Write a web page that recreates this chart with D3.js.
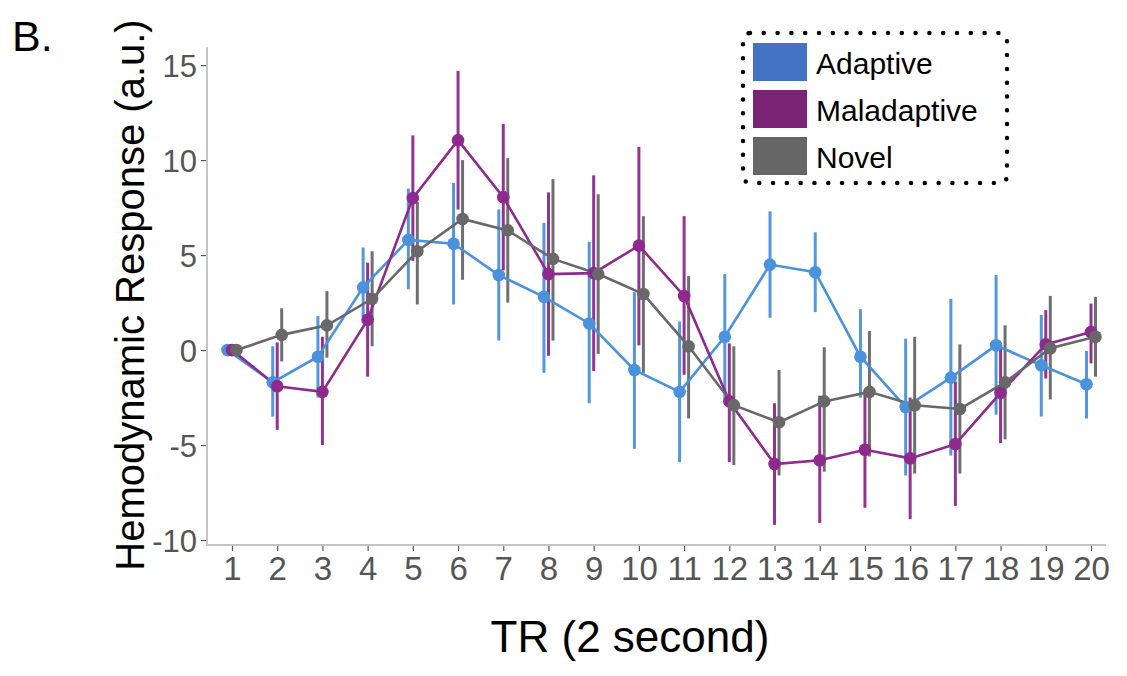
<!DOCTYPE html>
<html>
<head>
<meta charset="utf-8">
<script src="https://cdn.jsdelivr.net/npm/d3@7"></script>
<style>
  body { margin: 0; background: #fff; }
  text { font-family: "Liberation Sans", Arial, Helvetica, sans-serif; }
</style>
</head>
<body>
<svg id="chart"></svg>
<script>
// TR 1..20
var trLabels = ["1","2","3","4","5","6","7","8","9","10","11","12","13","14","15","16","17","18","19","20"];
var yTicks = [-10, -5, 0, 5, 10, 15];
var seriesNames = ["Adaptive", "Maladaptive", "Novel"];

var adaptiveMean  = [0, -1.7, -0.35, 3.3, 5.8, 5.6, 3.95, 2.8, 1.4, -1.05, -2.2, 0.7, 4.5, 4.1, -0.35, -3.0, -1.45, 0.25, -0.8, -1.8];
var adaptiveUpper = [0, 0.2, 1.8, 5.4, 8.5, 8.8, 7.4, 6.7, 5.7, 3.05, 1.5, 4.0, 7.3, 6.2, 2.15, 0.6, 2.7, 3.95, 1.85, -0.05];
var adaptiveLower = [0, -3.5, -2.5, 1.7, 3.2, 2.4, 0.5, -1.2, -2.8, -5.2, -5.9, -2.6, 1.7, 2.0, -2.5, -6.6, -5.55, -3.4, -3.5, -3.6];

var maladaptiveMean  = [0, -1.9, -2.2, 1.6, 8.0, 11.05, 8.05, 4.0, 4.05, 5.5, 2.85, -2.7, -6.0, -5.8, -5.25, -5.7, -4.95, -2.25, 0.3, 0.95];
var maladaptiveUpper = [0, 0.4, 0.7, 4.6, 11.3, 14.7, 11.9, 8.3, 9.2, 10.7, 7.05, 0.35, -2.8, -2.4, -2.3, -2.5, -1.65, 0.15, 2.1, 2.45];
var maladaptiveLower = [0, -4.2, -5.0, -1.4, 4.7, 7.4, 4.2, -0.3, -1.1, 0.25, -1.3, -5.9, -9.2, -9.1, -8.3, -8.9, -8.2, -4.9, -1.5, -0.7];

var novelMean  = [0, 0.8, 1.3, 2.7, 5.2, 6.9, 6.3, 4.8, 4.0, 2.95, 0.2, -2.9, -3.8, -2.7, -2.2, -2.9, -3.1, -1.7, 0.1, 0.7];
var novelUpper = [0, 2.2, 3.1, 5.2, 7.8, 10.0, 10.1, 9.0, 8.2, 7.05, 3.9, 0.2, -1.05, 0.15, 1.0, 0.7, 0.3, 1.3, 2.85, 2.8];
var novelLower = [0, -0.6, -0.4, 0.2, 2.4, 3.7, 2.5, 0.5, -0.2, -1.2, -3.6, -6.05, -6.6, -6.4, -5.6, -6.5, -6.5, -4.7, -2.6, -1.4];

var lineColors = ["#4a92dc", "#8e2a8e", "#686868"];
var keyColors = ["#4472c4", "#7b2477", "#666666"];
var dodge = [-4.5, 0, 4.5];

var svgWidth = 1127;
var svgHeight = 676;

var svg = d3.select("#chart")
    .attr("width", svgWidth)
    .attr("height", svgHeight);

var xAxisY = 545;
var yAxisX = 207;

var xScale = d3.scalePoint()
    .domain(trLabels)
    .range([232, 1091]);

var yScale = d3.scaleLinear()
    .domain([-10.26, 15.9])
    .range([545, 48]);

var means = [adaptiveMean, maladaptiveMean, novelMean];
var uppers = [adaptiveUpper, maladaptiveUpper, novelUpper];
var lowers = [adaptiveLower, maladaptiveLower, novelLower];

var series = seriesNames.map(function(name, s){
    return trLabels.map(function(tr, i){
        return { tr: tr, mean: means[s][i], hi: uppers[s][i], lo: lowers[s][i], s: s };
    });
});

// axes
var yAxis = svg.append("g")
    .attr("class", "yAxis")
    .attr("transform", "translate(" + yAxisX + ",0)")
    .call(d3.axisLeft(yScale).tickValues(yTicks).tickSize(6).tickPadding(4)
        .tickFormat(function(d){ return String(d); }));

var xAxis = svg.append("g")
    .attr("class", "xAxis")
    .attr("transform", "translate(0," + xAxisY + ")")
    .call(d3.axisBottom(xScale).tickSize(6).tickPadding(5));

yAxis.select(".domain").remove();
xAxis.select(".domain").remove();

svg.append("line")
    .attr("x1", yAxisX).attr("x2", yAxisX)
    .attr("y1", 47).attr("y2", xAxisY)
    .attr("stroke", "#c4c4c4").attr("stroke-width", 2);
svg.append("line")
    .attr("x1", yAxisX - 1).attr("x2", 1106)
    .attr("y1", xAxisY).attr("y2", xAxisY)
    .attr("stroke", "#c4c4c4").attr("stroke-width", 2);

svg.selectAll(".tick line").attr("stroke", "#555").attr("stroke-width", 1.2);

yAxis.selectAll(".tick text")
    .attr("font-size", "31px")
    .attr("fill", "#555")
    .attr("dy", "0.36em");

xAxis.selectAll(".tick text")
    .attr("font-size", "33px")
    .attr("fill", "#555")
    .attr("dy", "0.72em");

// error bars
var plot = svg.append("g");
series.forEach(function(d, s){
    plot.append("g")
        .selectAll("line")
        .data(d.filter(function(p){ return p.hi !== p.lo; }))
        .enter()
        .append("line")
        .attr("x1", function(p){ return xScale(p.tr) + dodge[s]; })
        .attr("x2", function(p){ return xScale(p.tr) + dodge[s]; })
        .attr("y1", function(p){ return yScale(p.hi); })
        .attr("y2", function(p){ return yScale(p.lo); })
        .attr("stroke", lineColors[s])
        .attr("stroke-width", 3)
        .attr("opacity", 0.95);
});

// lines
series.forEach(function(d, s){
    plot.append("path")
        .datum(d)
        .attr("fill", "none")
        .attr("stroke", lineColors[s])
        .attr("stroke-width", 2.6)
        .attr("d", d3.line()
            .x(function(p){ return xScale(p.tr) + dodge[s]; })
            .y(function(p){ return yScale(p.mean); }));
});

// points
series.forEach(function(d, s){
    plot.append("g")
        .selectAll("circle")
        .data(d)
        .enter()
        .append("circle")
        .attr("cx", function(p){ return xScale(p.tr) + dodge[s]; })
        .attr("cy", function(p){ return yScale(p.mean); })
        .attr("r", 6.3)
        .attr("fill", lineColors[s]);
});

// titles
svg.append("text")
    .attr("x", 12)
    .attr("y", 51)
    .attr("font-size", "43px")
    .attr("fill", "#000")
    .text("B.");

svg.append("text")
    .attr("transform", "translate(144,295) rotate(-90)")
    .attr("text-anchor", "middle")
    .attr("font-size", "40px")
    .attr("fill", "#000")
    .text("Hemodynamic Response (a.u.)");

svg.append("text")
    .attr("x", 630)
    .attr("y", 652)
    .attr("text-anchor", "middle")
    .attr("font-size", "44px")
    .attr("fill", "#000")
    .text("TR (2 second)");

// legend
var legend = svg.append("g").attr("class", "legend");
legend.append("rect")
    .attr("x", 743).attr("y", 33)
    .attr("width", 264).attr("height", 150)
    .attr("rx", 7)
    .attr("fill", "#fff")
    .attr("stroke", "#000")
    .attr("stroke-width", 4.5)
    .attr("stroke-linecap", "round")
    .attr("stroke-dasharray", "0 13.8");

var item = legend.selectAll(".item")
    .data(seriesNames)
    .enter()
    .append("g")
    .attr("class", "item")
    .attr("transform", function(d, i){ return "translate(753," + (43 + i * 47) + ")"; });

item.append("rect")
    .attr("width", 54)
    .attr("height", 38)
    .attr("fill", function(d, i){ return keyColors[i]; });

item.append("text")
    .attr("x", 63)
    .attr("y", 31)
    .attr("font-size", "30px")
    .attr("fill", "#000")
    .text(function(d){ return d; });
</script>
</body>
</html>
